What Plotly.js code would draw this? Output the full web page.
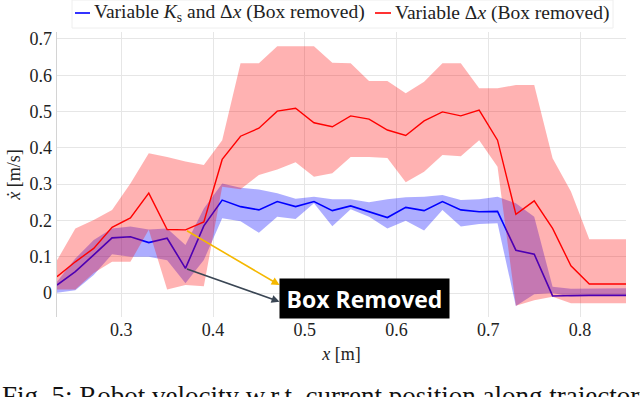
<!DOCTYPE html>
<html>
<head>
<meta charset="utf-8">
<script src="https://cdn.plot.ly/plotly-3.0.1.min.js"></script>
<style>html,body{margin:0;padding:0;background:#fff;}#chart{width:640px;height:397px;}</style>
</head>
<body>
<div id="chart"></div>
<script>
// Positions along trajectory x [m]
const xPos = [0.23,0.25,0.27,0.29,0.31,0.33,0.35,0.37,0.39,0.41,0.43,0.45,0.47,0.49,0.51,0.53,0.55,0.57,0.59,0.61,0.63,0.65,0.67,0.69,0.71,0.73,0.75,0.77,0.79,0.81,0.83,0.85];

// Variable Δx (Box removed) – red
const redMean  = [0.045,0.086,0.123,0.181,0.207,0.275,0.175,0.174,0.196,0.368,0.432,0.454,0.501,0.509,0.469,0.458,0.488,0.479,0.449,0.434,0.474,0.499,0.488,0.504,0.421,0.217,0.254,0.178,0.075,0.025,0.025,0.025];
const redUpper = [0.090,0.178,0.201,0.229,0.302,0.385,0.375,0.362,0.353,0.421,0.633,0.633,0.680,0.680,0.680,0.634,0.633,0.584,0.584,0.550,0.582,0.633,0.633,0.564,0.564,0.573,0.573,0.371,0.280,0.148,0.148,0.148];
const redLower = [0.010,0.010,0.055,0.086,0.086,0.174,0.010,0.022,0.019,0.293,0.286,0.325,0.340,0.360,0.320,0.330,0.375,0.375,0.372,0.305,0.334,0.380,0.377,0.421,0.348,-0.035,-0.020,-0.010,-0.028,-0.028,-0.028,-0.028];

// Variable Ks and Δx (Box removed) – blue
const blueMean  = [0.022,0.059,0.105,0.152,0.155,0.139,0.151,0.068,0.185,0.256,0.238,0.229,0.252,0.238,0.252,0.227,0.240,0.224,0.208,0.236,0.227,0.252,0.229,0.224,0.225,0.118,0.107,-0.008,-0.006,-0.006,-0.006,-0.006];
const blueUpper = [0.031,0.095,0.146,0.178,0.183,0.175,0.178,0.132,0.233,0.302,0.290,0.285,0.275,0.260,0.265,0.258,0.258,0.250,0.258,0.264,0.265,0.270,0.256,0.258,0.265,0.247,0.210,0.017,0.012,0.013,0.013,0.013];
const blueLower = [0.001,0.008,0.050,0.107,0.100,0.100,0.090,0.027,0.091,0.206,0.198,0.166,0.210,0.204,0.247,0.184,0.231,0.210,0.178,0.199,0.172,0.229,0.183,0.190,0.192,-0.036,-0.003,0.000,-0.010,-0.010,-0.010,-0.010];

const seriesNames = ['Variable <i>K</i><sub>s</sub> and Δ<i>x</i> (Box removed)', 'Variable Δ<i>x</i> (Box removed)'];
const xTicks = [0.3,0.4,0.5,0.6,0.7,0.8];
const yTicks = [0,0.1,0.2,0.3,0.4,0.5,0.6,0.7];
const boxLabel = 'Box Removed';
const caption = 'Fig. 5: Robot velocity w.r.t. current position along trajectory';
const redArrowIdx = 7, blueArrowIdx = 7;

function band(xs, up, lo) {
  return { x: xs.concat(xs.slice().reverse()), y: up.concat(lo.slice().reverse()) };
}
const rb = band(xPos, redUpper, redLower);
const bb = band(xPos, blueUpper, blueLower);

const traces = [
  {x: bb.x, y: bb.y, type:'scatter', mode:'lines', fill:'toself', fillcolor:'rgba(0,0,255,0.32)', line:{width:0}, hoverinfo:'skip', showlegend:false},
  {x: xPos, y: blueMean, type:'scatter', mode:'lines', line:{color:'#0000ff', width:1.6}, showlegend:false},
  {x: rb.x, y: rb.y, type:'scatter', mode:'lines', fill:'toself', fillcolor:'rgba(255,0,0,0.3)', line:{width:0}, hoverinfo:'skip', showlegend:false},
  {x: xPos, y: redMean, type:'scatter', mode:'lines', line:{color:'#ff0000', width:1.4}, showlegend:false}
];

const L = 57, R = 14, T = 32, B = 80, W = 640, H = 397;
const pw = W - L - R, ph = H - T - B;
const px2x = p => (p - L) / pw;
const py2y = p => 1 - (p - T) / ph;

const serif = 'Liberation Serif';

const layout = {
  width: W, height: H,
  margin: {l: L, r: R, t: T, b: B},
  paper_bgcolor: '#fff', plot_bgcolor: '#fff',
  showlegend: false,
  font: {family: serif, size: 18, color: '#222'},
  xaxis: {
    range: [0.23, 0.85], tickvals: xTicks, ticktext: xTicks.map(v => v.toFixed(1)),
    showgrid: true, gridcolor: '#e6e6e6', gridwidth: 1, zeroline: false,
    showline: false, ticks: '', tickfont: {family: serif, size: 18, color: '#222'},
    title: {text: '<i>x</i> [m]', font: {family: serif, size: 18, color: '#222'}, standoff: 8}
  },
  yaxis: {
    range: [-0.066, 0.719], tickvals: yTicks, ticktext: yTicks.map(v => v === 0 ? '0' : v.toFixed(1)),
    showgrid: true, gridcolor: '#e6e6e6', gridwidth: 1, zeroline: false,
    showline: true, linecolor: '#d4d4d4', linewidth: 1.5, ticks: '',
    tickfont: {family: serif, size: 18, color: '#222'},
    title: {text: '<i>ẋ</i> [m/s]', font: {family: serif, size: 18, color: '#222'}, standoff: 4}
  },
  shapes: [
    {type:'rect', xref:'paper', yref:'paper', x0: px2x(72), x1: px2x(613), y0: py2y(28), y1: py2y(0), line:{color:'#eeeeee', width:1}, fillcolor:'rgba(0,0,0,0)'},
    {type:'line', xref:'paper', yref:'paper', x0: px2x(75), x1: px2x(90), y0: py2y(13), y1: py2y(13), line:{color:'#0000ff', width:1.6}},
    {type:'line', xref:'paper', yref:'paper', x0: px2x(375), x1: px2x(391), y0: py2y(13), y1: py2y(13), line:{color:'#ff0000', width:1.6}}
  ],
  annotations: [
    {xref:'paper', yref:'paper', x: px2x(92), y: py2y(13), xanchor:'left', yanchor:'middle', showarrow:false, text: seriesNames[0], font:{family: serif, size: 19.5, color:'#222'}},
    {xref:'paper', yref:'paper', x: px2x(393), y: py2y(13), xanchor:'left', yanchor:'middle', showarrow:false, text: seriesNames[1], font:{family: serif, size: 19.5, color:'#222'}},
    {xref:'x', yref:'y', axref:'x', ayref:'y', x: 0.4725, y: 0.022, ax: xPos[redArrowIdx], ay: redMean[redArrowIdx], text:'', showarrow:true, arrowcolor:'#f5b800', arrowwidth:1.6, arrowhead:2, arrowsize:1, standoff:0, startstandoff:0},
    {xref:'x', yref:'y', axref:'x', ayref:'y', x: 0.4725, y: -0.024, ax: xPos[blueArrowIdx], ay: blueMean[blueArrowIdx], text:'', showarrow:true, arrowcolor:'#3a4654', arrowwidth:1.6, arrowhead:2, arrowsize:1, standoff:0, startstandoff:0},
    {xref:'paper', yref:'paper', x: px2x(364.5), y: py2y(298.5), xanchor:'center', yanchor:'middle', showarrow:false, text:'<b>' + boxLabel + '</b>', bgcolor:'#000', borderpad:3, width:163, height:33, font:{family:'Open Sans', size:23, color:'#fff'}},
    {xref:'paper', yref:'paper', x: px2x(0), y: py2y(379), xanchor:'left', yanchor:'top', showarrow:false, text: caption, font:{family: serif, size: 27, color:'#111'}}
  ]
};

Plotly.newPlot('chart', traces, layout, {staticPlot: true, displayModeBar: false});
</script>
</body>
</html>
